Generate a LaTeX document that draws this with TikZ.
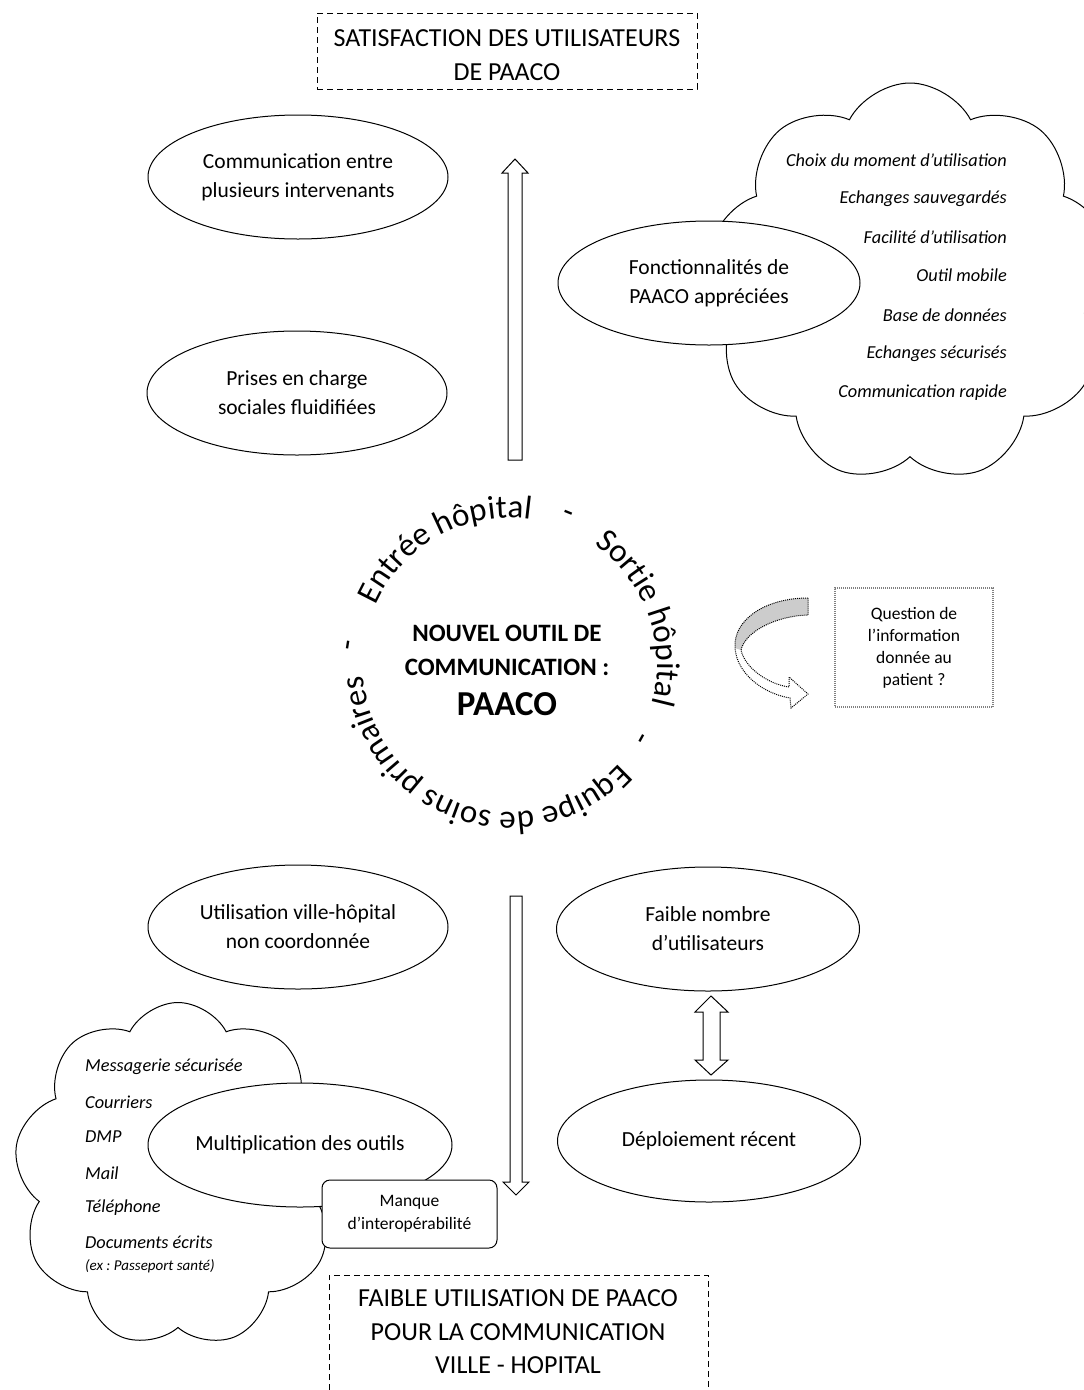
\documentclass[tikz,border=0pt]{standalone}
\usepackage{fontspec}
\setmainfont{Carlito}
\usetikzlibrary{shapes.geometric,shapes.symbols,decorations.text,calc}
\newcommand\cirfnt{\fontsize{33}{33}\selectfont}
\frenchspacing
\begin{document}
\begin{tikzpicture}[x=1pt,y=-1pt,
  ell/.style={draw, ellipse, line width=1pt, fill=white, minimum width=300pt, minimum height=124pt, inner sep=0pt, align=center, font=\fontsize{21.5}{29}\selectfont},
  cloudshape/.style={draw, cloud, line width=1pt, cloud puffs=9, cloud puff arc=125, aspect=1, inner sep=0pt, fill=white},
  ctxt/.style={font=\itshape\fontsize{18.3}{20}\selectfont, inner sep=0pt},
  hollow/.style={draw, line width=1pt, fill=white},
  bigtxt/.style={align=center, font=\fontsize{26}{33.5}\selectfont},
  dashbox/.style={draw, line width=1pt, dash pattern=on 6pt off 4pt},
  dashmark/.style={font=\cirfnt, inner sep=0pt},
]
\useasboundingbox (0,0) rectangle (1084,1390);

% top box
\node[dashbox, minimum width=380pt, minimum height=76pt] (topbox) at (507,51) {};
\node[bigtxt] (toptxt) at (507,55) {SATISFACTION DES UTILISATEURS\\DE PAACO};

% clouds
\node[cloudshape, minimum width=405pt, minimum height=400pt] (cloudR) at (910,283) {};
\node[cloudshape, minimum width=328pt, minimum height=345pt] (cloudL) at (178,1175) {};

% ellipses
\node[ell] (comm) at (298,177) {Communication entre\\plusieurs intervenants};
\node[ell] (prises) at (297,393) {Prises en charge\\sociales fluidifiées};
\node[ell, minimum width=302pt] (fonc) at (709,283) {Fonctionnalités de\\PAACO appréciées};
\node[ell] (util) at (298,927) {Utilisation ville-hôpital\\non coordonnée};
\node[ell, minimum width=303pt] (faible) at (708,929) {Faible nombre\\d’utilisateurs};
\node[ell, minimum width=303pt, minimum height=122pt] (deploi) at (709,1141) {Déploiement récent};
\node[ell, minimum width=304pt] (multi) at (300,1145) {Multiplication des outils};

% right cloud texts
\node[ctxt, anchor=east] (r1) at (1007,160) {Choix du moment d’utilisation};
\node[ctxt, anchor=east] (r2) at (1007,199) {Echanges sauvegardés};
\node[ctxt, anchor=east] (r3) at (1007,237) {Facilité d’utilisation};
\node[ctxt, anchor=east] (r4) at (1007,275) {Outil mobile};
\node[ctxt, anchor=east] (r5) at (1007,315) {Base de données};
\node[ctxt, anchor=east] (r6) at (1007,354) {Echanges sécurisés};
\node[ctxt, anchor=east] (r7) at (1007,393) {Communication rapide};

% left cloud texts
\node[ctxt, anchor=west] (l1) at (85,1067) {Messagerie sécurisée};
\node[ctxt, anchor=west] (l2) at (85,1102) {Courriers};
\node[ctxt, anchor=west] (l3) at (85,1137) {DMP};
\node[ctxt, anchor=west] (l4) at (85,1173) {Mail};
\node[ctxt, anchor=west] (l5) at (85,1208) {Téléphone};
\node[ctxt, anchor=west] (l6) at (85,1242) {Documents écrits};
\node[ctxt, anchor=west, font=\itshape\fontsize{15}{16}\selectfont] (l7) at (85,1266) {(ex : Passeport santé)};

% manque box
\node[draw, line width=1pt, fill=white, rounded corners=8pt, minimum width=175pt, minimum height=68pt, align=center, font=\fontsize{17.5}{23}\selectfont] (manque) at (409.5,1214) {Manque\\d’interopérabilité};

% centre
\coordinate (C) at (510,665);
\node[align=center, font=\bfseries\fontsize{25}{34}\selectfont] (nouv) at (507,650) {NOUVEL OUTIL DE\\COMMUNICATION :};
\node[font=\bfseries\fontsize{35}{35}\selectfont] (paaco) at (507,704) {PAACO};
\path[decorate, decoration={text along path, text={|\cirfnt|Entrée hôpital}, text align=center}]
  ($(C)+(-167:147)$) arc[start angle=-167, end angle=-71, radius=147];
\path[decorate, decoration={text along path, text={|\cirfnt|Sortie hôpital}, text align=center}]
  ($(C)+(-66:147)$) arc[start angle=-66, end angle=26, radius=147];
\path[decorate, decoration={text along path, text={|\cirfnt|Equipe de soins primaires}, text align=center}]
  ($(C)+(21:147)$) arc[start angle=21, end angle=197, radius=147];
\node[dashmark, rotate=-22] (d1) at (567,517) {-};
\node[dashmark, rotate=61] (d2) at (645,741) {-};
\node[dashmark, rotate=81] (d3) at (352,646) {-};

% up arrow
\draw[hollow] (508,460) -- (508,173) -- (502,173) -- (515,159) -- (528,173) -- (522,173) -- (522,460) -- cycle;
% down arrow
\draw[hollow] (510,896) -- (510,1182) -- (503,1182) -- (516,1195) -- (529,1182) -- (522,1182) -- (522,896) -- cycle;
% double arrow
\draw[hollow] (711,996) -- (728,1012) -- (720,1012) -- (720,1060) -- (728,1060) -- (711,1075) -- (695,1060) -- (703,1060) -- (703,1012) -- (695,1012) -- cycle;

% curved arrow
\fill[gray!40] (808,598) .. controls (765,598) and (733,620) .. (735,648) -- (741,650) .. controls (745,632) and (775,616) .. (808,615) -- cycle;
\draw[line width=1pt, dash pattern=on 1pt off 1pt] (808,598) .. controls (765,598) and (733,620) .. (735,648) .. controls (737,675) and (765,694) .. (790,698) -- (791,708) -- (808,694) -- (789,677) -- (789,687) .. controls (768,684) and (745,668) .. (741,650) .. controls (745,632) and (775,616) .. (808,615) -- cycle;

% question box
\node[draw=gray, line width=1.3pt, dash pattern=on 1pt off 1pt, minimum width=158pt, minimum height=119pt, align=center, font=\fontsize{17.5}{22}\selectfont] (quest) at (914,647.5) {Question de\\l’information\\donnée au\\patient ?};

% bottom box
\node[bigtxt] (botbox) at (518,1332) {FAIBLE UTILISATION DE PAACO\\POUR LA COMMUNICATION\\VILLE - HOPITAL};
\draw[line width=1pt, dash pattern=on 6pt off 4pt] (329,1390) -- (329,1275) -- (708,1275) -- (708,1390);
\end{tikzpicture}
\end{document}
